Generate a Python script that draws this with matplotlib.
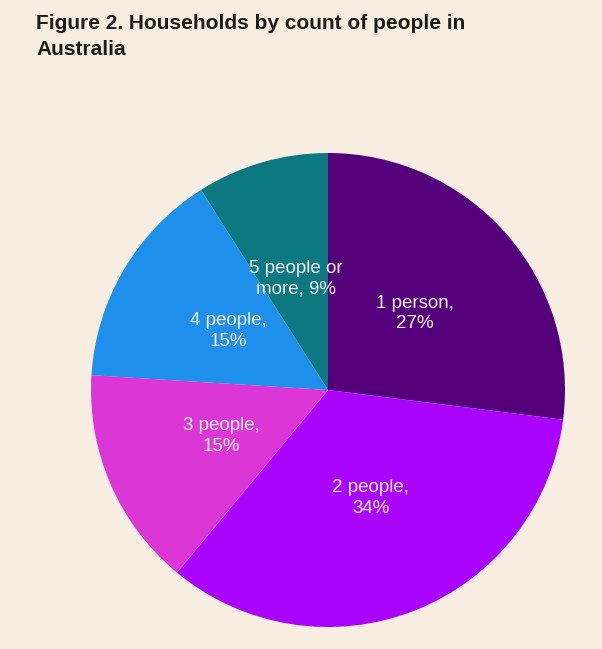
import numpy as np
import matplotlib.pyplot as plt

# 数据
categories = ['1 person', '2 people', '3 people', '4 people', '5 people or\nmore']
shares = [27, 34, 15, 15, 9]
colors = ['#54007A', '#A903FC', '#DC37D6', '#1E8FEB', '#0B797F']

plt.rcParams['font.family'] = ['Liberation Sans', 'DejaVu Sans']

fig = plt.figure(figsize=(6.02, 6.49), dpi=100)
fig.patch.set_facecolor('#F7EEE1')

# 饼图区域，圆心约 (328, 390)，半径约 237 px
ax = fig.add_axes([91 / 602, 22 / 649, 474 / 602, 474 / 649])
ax.set_facecolor('#F7EEE1')

wedges, _ = ax.pie(shares, colors=colors, startangle=90, counterclock=False,
                   radius=1, wedgeprops=dict(linewidth=0))

for w, cat, val in zip(wedges, categories, shares):
    ang = np.deg2rad((w.theta1 + w.theta2) / 2)
    x, y = 0.49 * np.cos(ang), 0.49 * np.sin(ang)
    if cat.endswith('\nmore'):
        txt = cat + ', %d%%' % val
    else:
        txt = '%s,\n%d%%' % (cat, val)
    ax.text(x, y, txt, ha='center', va='center', color='#F8ECF6',
            fontsize=13.5, linespacing=1.25)

ax.set_xlim(-1, 1)
ax.set_ylim(-1, 1)
ax.set_aspect('equal')
ax.axis('off')

fig.text(36 / 602, 1 - 14 / 649,
         'Figure 2. Households by count of people in\nAustralia',
         ha='left', va='top', fontsize=15, fontweight='bold',
         color='#1E1A17', linespacing=1.45)

fig.savefig('out.png', dpi=100, facecolor=fig.get_facecolor())
